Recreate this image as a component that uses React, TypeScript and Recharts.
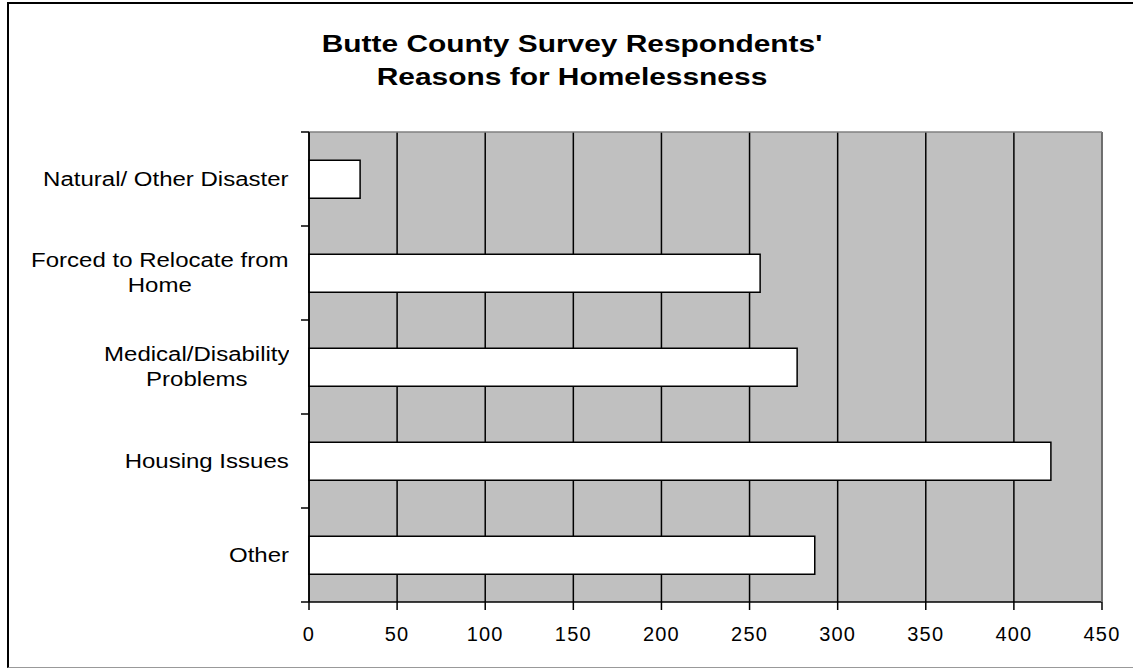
import React from "react";
import {
  BarChart,
  Bar,
  XAxis,
  YAxis,
  CartesianGrid,
} from "recharts";

const reasons = [
  "Natural/ Other Disaster",
  "Forced to Relocate from\nHome",
  "Medical/Disability\nProblems",
  "Housing Issues",
  "Other",
];
const respondents = [29, 256, 277, 421, 287];
const xTicks = [0, 50, 100, 150, 200, 250, 300, 350, 400, 450];

const chartData = reasons.map((reason, i) => ({
  reason,
  count: respondents[i],
}));

const FONT = '"Liberation Sans", Arial, sans-serif';

const CHART_W = 1124;
const CHART_H = 663;
const MARGIN_TOP = 127;
const TOP_AXIS_H = 1;
const X_AXIS_H = 65;
const TICK_MARGIN = 20;
const bandSize =
  (CHART_H - MARGIN_TOP - TOP_AXIS_H - X_AXIS_H) / reasons.length;

// category label + Excel-style tick marks on the band boundaries
const CategoryTick = ({ x, y, payload, index }: any) => {
  const axisX = x + TICK_MARGIN;
  return (
    <g>
      <line
        x1={axisX - 8}
        x2={axisX}
        y1={y - bandSize / 2}
        y2={y - bandSize / 2}
        stroke="#000"
        strokeWidth={1.5}
      />
      {index === reasons.length - 1 && (
        <line
          x1={axisX - 8}
          x2={axisX}
          y1={y + bandSize / 2}
          y2={y + bandSize / 2}
          stroke="#000"
          strokeWidth={1.5}
        />
      )}
      <foreignObject x={x - 290} y={y - 45} width={290} height={90}>
        <div
          style={{
            height: "100%",
            display: "flex",
            alignItems: "center",
            justifyContent: "flex-end",
          }}
        >
          <div
            style={{
              textAlign: "center",
              whiteSpace: "pre-line",
              fontFamily: FONT,
              fontSize: 20,
              lineHeight: "25px",
              color: "#000",
              transform: "scaleX(1.2)",
              transformOrigin: "right center",
            }}
          >
            {payload.value}
          </div>
        </div>
      </foreignObject>
    </g>
  );
};

export default function App() {
  return (
    <div
      style={{
        position: "absolute",
        left: 7,
        top: 2,
        width: CHART_W,
        height: 663,
        borderLeft: "2px solid #000",
        borderTop: "2px solid #000",
        borderBottom: "1px solid #999",
        background: "#fff",
        overflow: "hidden",
      }}
    >
      <div
        style={{
          position: "absolute",
          top: 24,
          left: 0,
          width: 1126,
          textAlign: "center",
          fontFamily: FONT,
          fontWeight: "bold",
          fontSize: 23,
          lineHeight: "32.6px",
          color: "#000",
          transform: "scaleX(1.3)",
          transformOrigin: "center",
        }}
      >
        Butte County Survey Respondents'
        <br />
        Reasons for Homelessness
      </div>
      <BarChart
        width={CHART_W}
        height={CHART_H}
        data={chartData}
        layout="vertical"
        barCategoryGap="30%"
        margin={{ top: MARGIN_TOP, right: 30, left: 0, bottom: 0 }}
      >
        <CartesianGrid
          horizontal={false}
          vertical={true}
          stroke="#000"
          strokeWidth={1.5}
          fill="#c0c0c0"
          fillOpacity={1}
        />
        <XAxis
          type="number"
          dataKey="count"
          domain={[0, 450]}
          ticks={xTicks}
          interval={0}
          height={X_AXIS_H}
          tickSize={8}
          tickMargin={17}
          axisLine={{ stroke: "#000", strokeWidth: 1.5 }}
          tickLine={{ stroke: "#000", strokeWidth: 1.5 }}
          tick={{
            fill: "#000",
            fontFamily: FONT,
            fontSize: 20,
            letterSpacing: 1.2,
          }}
        />
        <XAxis
          xAxisId="top"
          orientation="top"
          type="number"
          domain={[0, 450]}
          ticks={xTicks}
          height={TOP_AXIS_H}
          tick={false}
          tickLine={false}
          axisLine={{ stroke: "#808080", strokeWidth: 1.5 }}
        />
        <YAxis
          yAxisId="cat"
          type="category"
          dataKey="reason"
          width={300}
          tickSize={0}
          tickMargin={TICK_MARGIN}
          interval={0}
          axisLine={{ stroke: "#000", strokeWidth: 1.5 }}
          tickLine={false}
          tick={<CategoryTick />}
        />
        <YAxis
          yAxisId="right"
          orientation="right"
          type="category"
          dataKey="reason"
          width={1}
          tick={false}
          tickLine={false}
          axisLine={{ stroke: "#808080", strokeWidth: 1.5 }}
        />
        <Bar
          yAxisId="cat"
          dataKey="count"
          fill="#fff"
          stroke="#000"
          strokeWidth={1.5}
          isAnimationActive={false}
        />
      </BarChart>
    </div>
  );
}
